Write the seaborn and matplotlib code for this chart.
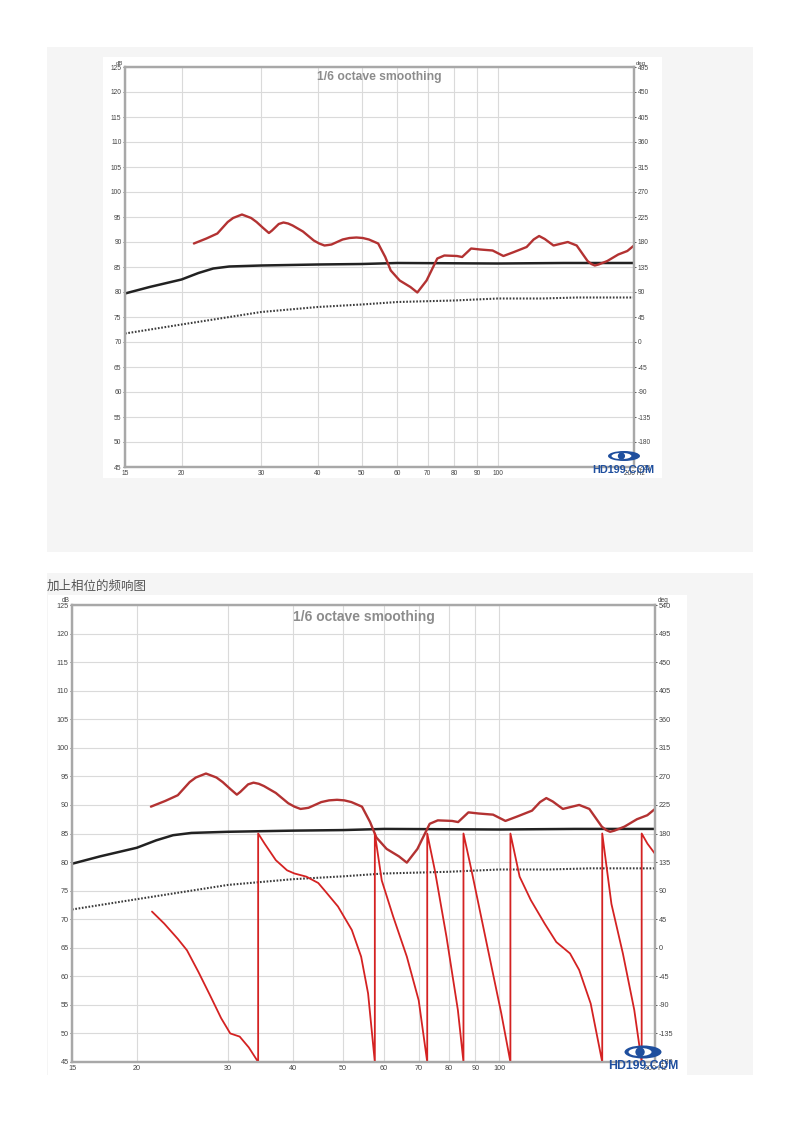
import numpy as np
import matplotlib
matplotlib.use("Agg")
import matplotlib.pyplot as plt
import seaborn as sns
from matplotlib.patches import Rectangle, Ellipse, Circle

sns.set_theme(style="white")
plt.rcParams['font.family'] = ['Liberation Sans', 'DejaVu Sans']

# ---------------- data ----------------
spl_freq = [21.3, 22.7, 24.0, 25.3, 26.0, 27.2, 28.5, 29.3, 30.3, 31.2, 31.7, 32.8,
            33.6, 34.4, 35.2, 37.1, 39.2, 40.3, 41.4, 42.2, 42.9, 45.4, 47.0, 48.7,
            50.3, 51.9, 54.4, 56.4, 58.0, 60.7, 64.1, 66.4, 69.6, 73.5, 76.2, 81.2,
            83.4, 87.3, 91.4, 97.4, 102.9, 108.6, 115.8, 120.0, 123.4, 127.0, 132.8,
            142.8, 149.4, 157.9, 161.0, 163.8, 167.0, 174.6, 184.6, 193.3, 200.0]
spl_db = [89.7, 90.7, 91.7, 94.0, 94.8, 95.5, 94.8, 94.0, 92.8, 91.8, 92.3, 93.6,
          93.9, 93.7, 93.3, 92.1, 90.3, 89.7, 89.3, 89.4, 89.5, 90.5, 90.8, 90.9,
          90.8, 90.5, 89.7, 87.0, 84.3, 82.3, 81.0, 79.9, 82.3, 86.7, 87.3, 87.2,
          87.0, 88.7, 88.5, 88.3, 87.2, 88.0, 89.0, 90.5, 91.2, 90.6, 89.3,
          90.0, 89.3, 86.2, 85.6, 85.3, 85.5, 86.2, 87.5, 88.2, 89.3]

solid_freq = [15, 17, 20, 21.8, 23.5, 25.5, 30, 40, 50, 60, 100, 140, 200]
solid_db = [79.7, 81.0, 82.5, 83.8, 84.7, 85.1, 85.3, 85.5, 85.6, 85.8, 85.7, 85.8, 85.8]

dotted_freq = [15, 20, 30, 40, 50, 60, 80, 100, 125, 150, 200]
dotted_db = [71.7, 73.5, 76.0, 77.0, 77.5, 78.0, 78.3, 78.7, 78.7, 78.9, 78.9]

phase_freq = [21.4, 22.6, 24.0, 25.0, 26.3, 27.7, 29.1, 30.3, 31.6, 32.9, 34.3,
              34.3, 35.3, 37.1, 39.0, 40.3, 42.5, 44.8, 46.0, 48.9, 52.0, 54.2, 55.9, 57.6,
              57.6, 59.4, 62.5, 66.4, 70.0, 72.7,
              72.7, 75.2, 79.2, 83.3, 85.4,
              85.4, 88.5, 95.0, 101.0, 105.2,
              105.2, 109.6, 115.2, 122.5, 129.0, 137.1, 142.8, 150.3, 158.2,
              158.2, 164.8, 173.4, 182.4, 188.5,
              188.5, 193.4, 200.0]
phase_deg = [57, 38, 14, -4, -38, -75, -111, -135, -140, -157, -180,
             180, 164, 138, 122, 117, 112, 102, 91, 65, 28, -14, -72, -180,
             180, 106, 49, -14, -83, -180,
             180, 122, 17, -98, -180,
             180, 122, 1, -103, -180,
             180, 112, 75, 38, 9, -9, -35, -88, -180,
             180, 69, -9, -98, -180,
             180, 164, 148]

x_ticks = [15, 20, 30, 40, 50, 60, 70, 80, 90, 100, 200]
x_labels = ['15', '20', '30', '40', '50', '60', '70', '80', '90', '100', '200 Hz']
db_ticks = list(range(45, 126, 5))
title_text = '1/6 octave smoothing'
caption = '加上相位的频响图'
logo_text = 'HD199.COM'

# ---------------- layout ----------------
W, H = 800, 1132
fig = plt.figure(figsize=(W / 100, H / 100), dpi=100)
fig.patch.set_facecolor('white')

bg = fig.add_axes([0, 0, 1, 1], zorder=-5)
bg.set_xlim(0, W); bg.set_ylim(H, 0); bg.axis('off')
bg.add_patch(Rectangle((47, 47), 706, 505, facecolor='#f5f5f5', edgecolor='none'))
bg.add_patch(Rectangle((47, 573), 706, 502, facecolor='#f5f5f5', edgecolor='none'))
bg.add_patch(Rectangle((103, 57), 559, 421, facecolor='white', edgecolor='none'))
bg.add_patch(Rectangle((48, 595), 639, 480, facecolor='white', edgecolor='none'))
bg.text(47, 586, caption, fontsize=9, color='#555555', va='center', ha='left',
        family=['Noto Sans CJK SC', 'DejaVu Sans'])


def px_axes(x0, y0, x1, y1):
    return [x0 / W, 1 - y1 / H, (x1 - x0) / W, (y1 - y0) / H]


def make_chart(rect, deg_lo, tick_fs, title_fs, phase=False):
    ax = fig.add_axes(px_axes(*rect))
    ax.set_facecolor('white')
    ax.set_xscale('log')
    sns.lineplot(x=dotted_freq, y=dotted_db, ax=ax, color='#3a3a3a', linewidth=1.5,
                 linestyle=(0, (0.8, 0.8)), estimator=None, sort=False)
    sns.lineplot(x=solid_freq, y=solid_db, ax=ax, color='#222222', linewidth=1.8,
                 estimator=None, sort=False)
    sns.lineplot(x=spl_freq, y=spl_db, ax=ax, color='#b33232', linewidth=1.7,
                 estimator=None, sort=False)

    ax2 = ax.twinx()
    if phase:
        sns.lineplot(x=phase_freq, y=phase_deg, ax=ax2, color='#d42222', linewidth=1.3,
                     estimator=None, sort=False)
    ax2.set_ylim(deg_lo, deg_lo + 720)
    deg_ticks = list(range(deg_lo, deg_lo + 721, 45))
    ax2.set_yticks(deg_ticks)
    ax2.set_yticklabels([str(v) for v in deg_ticks])
    ax2.set_xlabel(''); ax2.set_ylabel('')
    ax2.tick_params(axis='y', labelsize=tick_fs, colors='#444444', length=1.5, pad=1,
                    width=0.6)
    for s in ax2.spines.values():
        s.set_color('#a8a8a8'); s.set_linewidth(1.6)
    ax2.text(1.004, 1.003, 'deg', transform=ax2.transAxes, fontsize=tick_fs - 0.5,
             color='#444444', ha='left', va='bottom')

    # shared x axis: configure after the twin exists
    ax.set_xlim(15, 200)
    ax.xaxis.set_major_locator(matplotlib.ticker.FixedLocator(x_ticks))
    ax.xaxis.set_major_formatter(matplotlib.ticker.FixedFormatter(x_labels))
    ax.xaxis.set_minor_locator(matplotlib.ticker.NullLocator())
    ax.set_ylim(45, 125)
    ax.set_yticks(db_ticks)
    ax.set_yticklabels([str(v) for v in db_ticks])
    ax.grid(True, color='#dadada', linewidth=0.8)
    ax.set_axisbelow(True)
    ax.set_xlabel(''); ax.set_ylabel('')
    ax.tick_params(axis='both', labelsize=tick_fs, colors='#444444', length=1.5, pad=1,
                   width=0.6)
    for s in ax.spines.values():
        s.set_color('#a8a8a8'); s.set_linewidth(1.6)
    ax.text(-0.004, 1.003, 'dB', transform=ax.transAxes, fontsize=tick_fs - 0.5,
            color='#444444', ha='right', va='bottom')
    ax.text(0.5, 0.99, title_text, transform=ax.transAxes, ha='center', va='top',
            fontsize=title_fs, fontweight='bold', color='#8c8c8c')
    ax.set_zorder(1); ax2.set_zorder(2); ax2.patch.set_visible(False)
    return ax, ax2


make_chart((125, 67, 634, 467), -225, 4.8, 8.7)
make_chart((72, 605, 655, 1062), -180, 5.2, 10.0, phase=True)

# ---------------- logos ----------------
ov = fig.add_axes([0, 0, 1, 1], zorder=10)
ov.set_xlim(0, W); ov.set_ylim(H, 0); ov.axis('off'); ov.patch.set_visible(False)


def logo(cx, cy, w, h, tx, ty, fs):
    ov.add_patch(Ellipse((cx, cy), w, h, facecolor='#1f4f9e', edgecolor='none'))
    ov.add_patch(Ellipse((cx - w * 0.08, cy), w * 0.62, h * 0.62, facecolor='white',
                         edgecolor='none'))
    ov.add_patch(Circle((cx - w * 0.08, cy), h * 0.36, facecolor='#1f4f9e',
                        edgecolor='none'))
    ov.text(tx, ty, logo_text, fontsize=fs, fontweight='bold', color='#1f4f9e',
            ha='center', va='center')


logo(624, 456, 32, 10, 623, 470, 7.8)
logo(643, 1052, 37, 13, 643, 1066, 8.8)

fig.savefig('out.png', dpi=100, facecolor='white')
